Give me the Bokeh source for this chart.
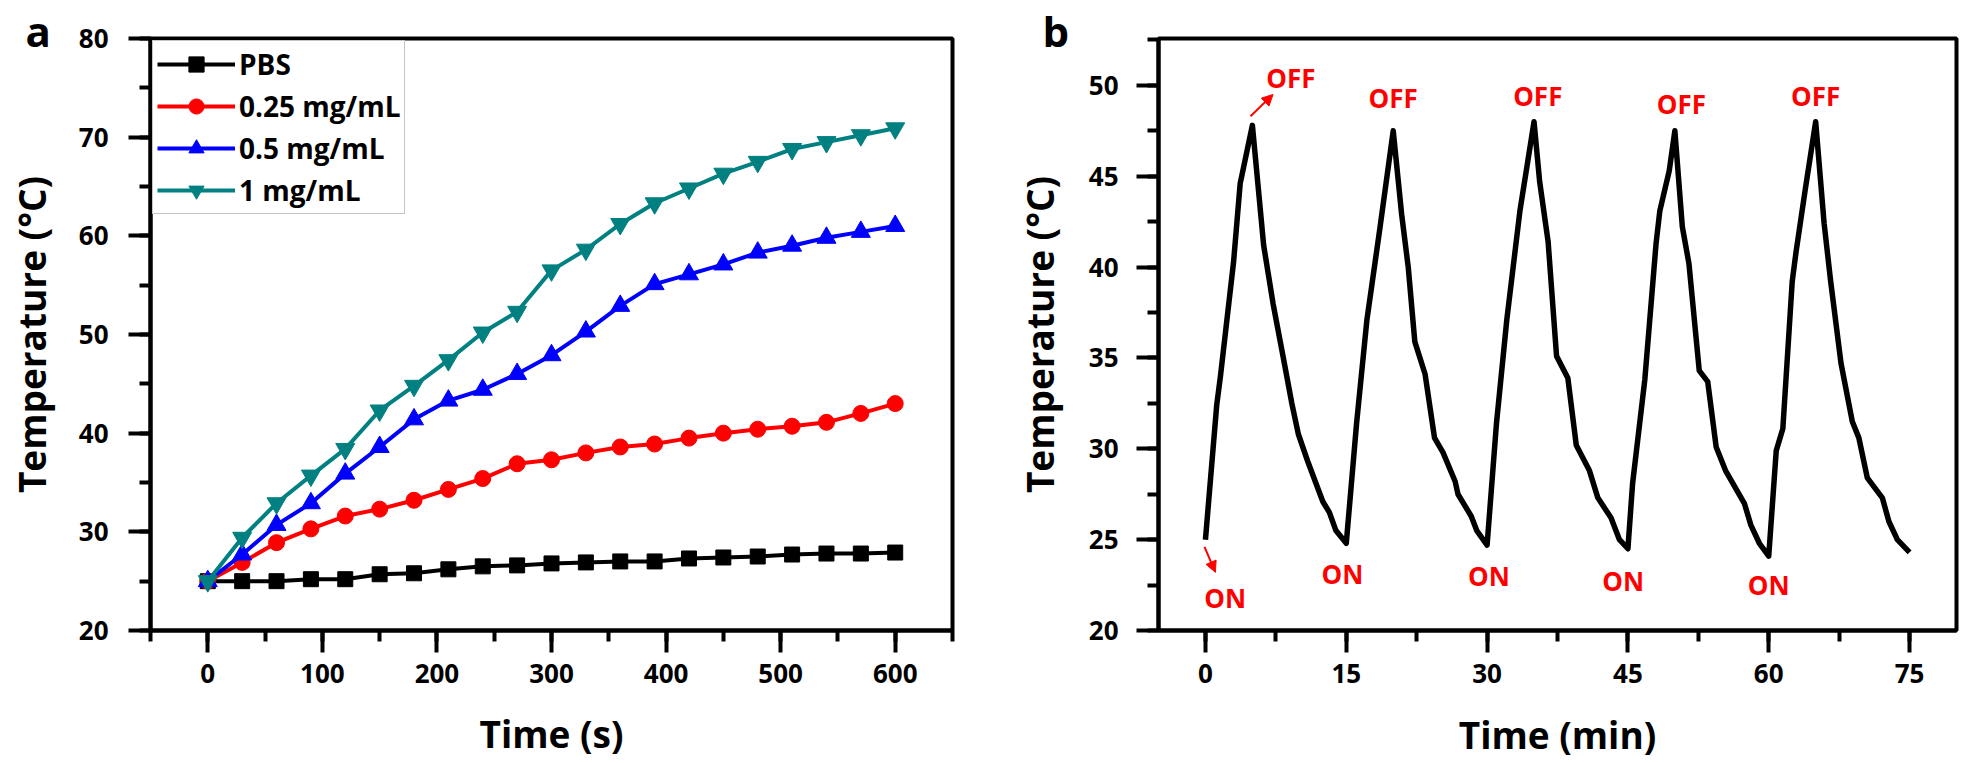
from bokeh.plotting import figure
from bokeh.layouts import row
from bokeh.models import (SingleIntervalTicker, Range1d, Arrow, NormalHead,
                          ColumnDataSource, Title)
from bokeh.core.properties import value
from bokeh.embed import file_html
from bokeh.resources import INLINE

# ---------------- data: panel a ----------------
time_s = [0, 30, 60, 90, 120, 150, 180, 210, 240, 270, 300, 330, 360, 390, 420,
          450, 480, 510, 540, 570, 600]
pbs = [25.0, 25.0, 25.0, 25.2, 25.2, 25.7, 25.8, 26.2, 26.5, 26.6, 26.8, 26.9, 27.0,
       27.0, 27.3, 27.4, 27.5, 27.7, 27.8, 27.8, 27.9]
c025 = [25.0, 26.9, 28.9, 30.3, 31.6, 32.3, 33.2, 34.3, 35.4, 36.9, 37.3, 38.0, 38.6,
        38.9, 39.5, 40.0, 40.4, 40.7, 41.1, 42.0, 43.0]
c05 = [25.0, 27.7, 30.7, 32.9, 35.9, 38.6, 41.4, 43.3, 44.4, 46.0, 47.9, 50.3, 52.9,
       55.1, 56.1, 57.1, 58.3, 59.0, 59.8, 60.4, 61.0]
c1 = [25.0, 29.4, 32.9, 35.7, 38.4, 42.3, 44.8, 47.4, 50.2, 52.3, 56.5, 58.6, 61.2,
      63.3, 64.8, 66.3, 67.5, 68.8, 69.5, 70.2, 70.9]
series_names = ["PBS", "0.25 mg/mL", "0.5 mg/mL", "1 mg/mL"]

# ---------------- data: panel b ----------------
time_min = [0, 1.2, 1.6, 3.0, 3.7, 5.0, 6.2, 7.2, 8.3, 9.2, 9.9, 10.9, 12.5, 13.2, 13.9, 15.0,
            16.1, 17.2, 18.6, 20.0, 20.9, 21.6, 22.3, 23.4, 24.4, 25.3, 26.6, 26.9, 28.3, 28.9, 30.0,
            31.0, 32.1, 33.5, 35.0, 35.6, 36.5, 37.4, 38.6, 39.5, 40.9, 41.8, 43.2, 44.1, 45.0,
            45.5, 46.8, 48.0, 48.4, 49.4, 50.0, 50.8, 51.5, 52.6, 53.5, 54.4, 55.4, 57.4, 58.1, 59.0, 60.0,
            60.8, 61.5, 62.5, 62.9, 63.9, 65.0, 65.9, 66.6, 67.7, 68.9, 69.6, 70.5, 72.1, 72.8, 73.7, 75.0]
temp_b = [25.0, 32.4, 34.0, 40.3, 44.6, 47.8, 41.2, 38.0, 35.0, 32.5, 30.8, 29.3, 27.1, 26.5, 25.5, 24.8,
          31.4, 37.1, 42.2, 47.5, 42.9, 40.0, 35.9, 34.1, 30.6, 29.8, 28.2, 27.5, 26.3, 25.5, 24.7,
          31.4, 37.1, 43.1, 48.0, 44.7, 41.4, 35.1, 33.9, 30.2, 28.8, 27.3, 26.2, 25.0, 24.5,
          28.1, 33.8, 41.3, 43.1, 45.3, 47.5, 42.2, 40.2, 34.3, 33.7, 30.1, 28.8, 27.0, 25.8, 24.8, 24.1,
          29.9, 31.1, 39.2, 40.8, 44.3, 48.0, 42.4, 39.2, 34.7, 31.5, 30.6, 28.4, 27.3, 26.0, 25.0, 24.3]

# annotation anchors (data coords of panel b)
off_text = ["OFF", "OFF", "OFF", "OFF", "OFF"]
off_t = [9.1, 20.0, 35.4, 50.7, 65.0]
off_temp = [50.4, 49.3, 49.4, 49.0, 49.4]
on_text = ["ON", "ON", "ON", "ON", "ON"]
on_t = [2.1, 14.6, 30.2, 44.5, 60.0]
on_temp = [21.8, 23.1, 23.0, 22.7, 22.5]

FONT = "Open Sans"
TOP = 38
BOTTOM = 133
H = 763


def style(p, xint, yint):
    p.xgrid.visible = False
    p.ygrid.visible = False
    p.xaxis.ticker = SingleIntervalTicker(interval=xint, num_minor_ticks=2)
    p.yaxis.ticker = SingleIntervalTicker(interval=yint, num_minor_ticks=2)
    for ax in (p.xaxis, p.yaxis):
        ax.axis_line_width = 4
        ax.axis_line_color = "black"
        ax.major_tick_line_width = 4
        ax.minor_tick_line_width = 4
        ax.major_tick_out = 22
        ax.major_tick_in = 0
        ax.minor_tick_out = 11
        ax.minor_tick_in = 0
        ax.major_label_text_font = FONT
        ax.major_label_text_font_style = "bold"
        ax.major_label_text_font_size = "26px"
        ax.major_label_text_color = "black"
        ax.axis_label_text_font = FONT
        ax.axis_label_text_font_style = "bold"
        ax.axis_label_text_font_size = "37px"
        ax.axis_label_text_color = "black"
    p.xaxis.major_label_standoff = 11
    p.outline_line_color = "black"
    p.outline_line_width = 4
    p.outline_line_alpha = 1.0
    p.background_fill_color = "white"
    p.border_fill_color = "white"


def panel_letter(p, text, offset):
    p.title = Title(text=text, align="left", vertical_align="top", offset=offset,
                    standoff=-44, text_font=FONT, text_font_style="bold",
                    text_font_size="42px", text_color="black")


# ---------------- panel a ----------------
pa = figure(width=1000, height=H, x_range=Range1d(-50, 650), y_range=Range1d(20, 80),
            output_backend="svg", toolbar_location=None,
            min_border_left=150, min_border_right=48, min_border_top=TOP,
            min_border_bottom=BOTTOM)
style(pa, 100, 10)
pa.yaxis.major_label_standoff = 20
pa.yaxis.axis_label_standoff = 19
pa.xaxis.axis_label_standoff = 22
pa.xaxis.axis_label = "Time (s)"
pa.yaxis.axis_label = "Temperature (°C)"
panel_letter(pa, "a", -125)

colors = ["black", "#FF0000", "#0000FF", "#008080"]
markers = ["square", "circle", "triangle", "inverted_triangle"]
sizes = [15, 16, 19, 19]
for ys, name, col, mk, sz in zip([pbs, c025, c05, c1], series_names, colors, markers, sizes):
    pa.line(time_s, ys, line_color=col, line_width=4, legend_label=name)
    pa.scatter(time_s, ys, marker=mk, size=sz, fill_color=col, line_color=col,
               legend_label=name)

lg = pa.legend[0]
lg.location = (2, 416)
lg.border_line_color = "#8c8c8c"
lg.border_line_width = 1.5
lg.background_fill_color = "white"
lg.background_fill_alpha = 1.0
lg.label_text_font = FONT
lg.label_text_font_style = "bold"
lg.label_text_font_size = "28px"
lg.label_text_color = "black"
lg.glyph_width = 78
lg.glyph_height = 38
lg.label_height = 38
lg.spacing = 4
lg.padding = 4
lg.margin = 0
lg.label_standoff = 4

# ---------------- panel b ----------------
pb = figure(width=961, height=H, x_range=Range1d(-5, 80), y_range=Range1d(20, 52.58),
            output_backend="svg", toolbar_location=None,
            min_border_left=158, min_border_right=5, min_border_top=TOP,
            min_border_bottom=BOTTOM)
style(pb, 15, 5)
pb.yaxis.major_label_standoff = 18
pb.yaxis.axis_label_standoff = 21
pb.xaxis.axis_label_standoff = 23
pb.xaxis.axis_label = "Time (min)"
pb.yaxis.axis_label = "Temperature (°C)"
panel_letter(pb, "b", -116)

pb.line(time_min, temp_b, line_color="black", line_width=5.5, line_join="round")

off_src = ColumnDataSource(dict(x=off_t, y=off_temp, text=off_text))
on_src = ColumnDataSource(dict(x=on_t, y=on_temp, text=on_text))
for src in (off_src, on_src):
    pb.text(x="x", y="y", text="text", source=src, text_font=value(FONT),
            text_font_style="bold", text_font_size="26px", text_color="#FF0000",
            text_align="center", text_baseline="middle")

pb.add_layout(Arrow(end=NormalHead(size=11, fill_color="#FF0000", line_color="#FF0000"),
                    x_start=4.8, y_start=48.3, x_end=7.2, y_end=49.5,
                    line_color="#FF0000", line_width=2))
pb.add_layout(Arrow(end=NormalHead(size=11, fill_color="#FF0000", line_color="#FF0000"),
                    x_start=-0.1, y_start=24.6, x_end=1.06, y_end=23.2,
                    line_color="#FF0000", line_width=2))

layout = row(pa, pb)
open("out.html", "w").write(file_html(layout, INLINE))
